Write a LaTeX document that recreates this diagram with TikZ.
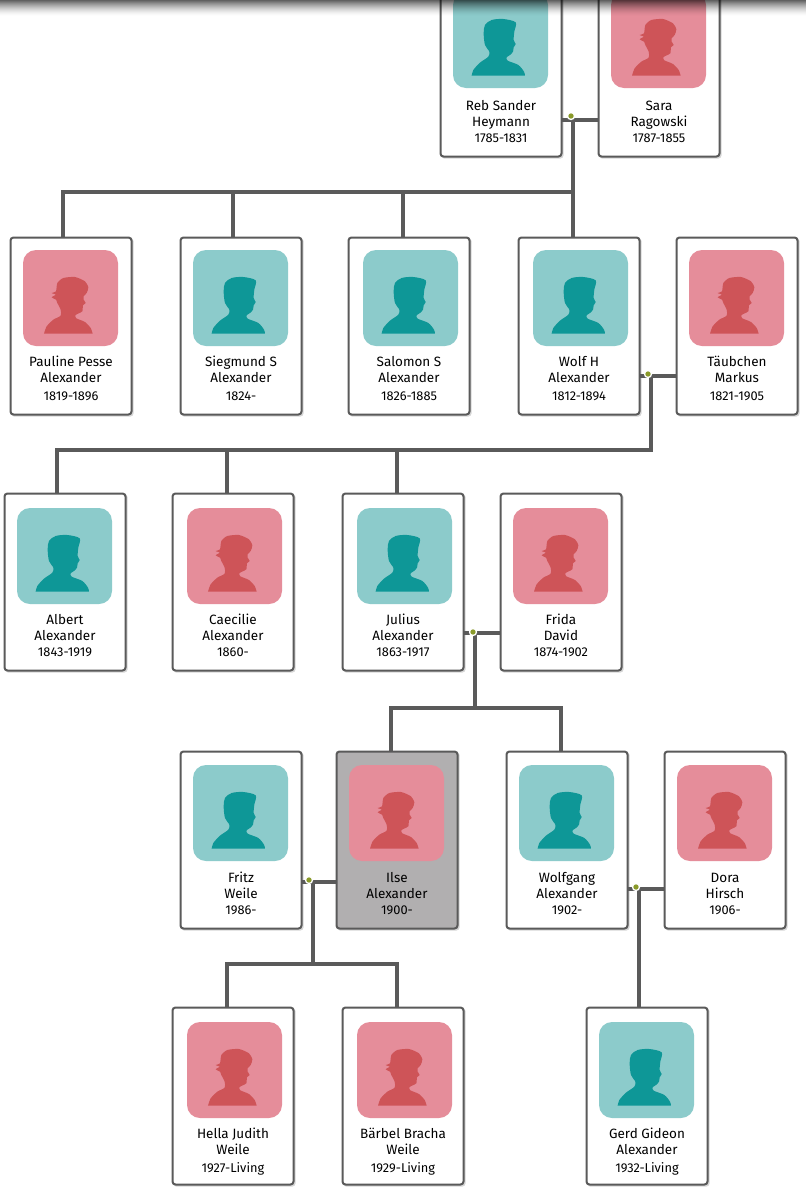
\documentclass[tikz,border=0pt]{standalone}
\usepackage{fontspec}
\setmainfont{Fira Sans}
\definecolor{linegray}{HTML}{5A5A5A}
\definecolor{cardgray}{HTML}{B1AFB0}
\definecolor{mbg}{HTML}{8CCBCB}
\definecolor{msil}{HTML}{0E9797}
\definecolor{fbg}{HTML}{E58D9A}
\definecolor{fsil}{HTML}{CE5458}
\definecolor{dotgreen}{HTML}{8A9A2A}
\tikzset{
  cardbox/.style={draw=linegray,line width=2pt,rounded corners=3pt,minimum width=121pt,minimum height=177pt,inner sep=0pt,outer sep=0pt},
  cardshadow/.style={fill=black,opacity=.16,rounded corners=3pt},
  photobox/.style={rounded corners=13pt,minimum width=95pt,minimum height=96pt,inner sep=0pt,outer sep=0pt},
  mphoto/.style={photobox,fill=mbg},
  fphoto/.style={photobox,fill=fbg},
  cardlabel/.style={align=center,anchor=north,inner sep=0pt,font=\fontsize{13.5}{16}\selectfont,text=black},
  link/.style={draw=linegray,line width=4pt,line cap=butt,line join=miter},
  ringdot/.style={circle,fill=dotgreen,draw=white,line width=1.3pt,minimum size=7pt,inner sep=0pt},
}
\newcommand\malesil{\fill[msil] plot[smooth,tension=.5] coordinates {(56,251)(61,234)(81,212)(106,194)(109,179)(96,159)(92,124)(96,99)(116,84)(151,81)(188,91)(184,119)(182,144)(188,156)(182,166)(180,179)(171,189)(161,196)(164,206)(196,219)(213,239)(216,251)} -- cycle;}
\newcommand\femalesil{\fill[fsil] plot[smooth,tension=.4] coordinates {(63,251)(71,229)(91,209)(113,197)(113,179)(103,159)(99,149)(86,142)(98,134)(86,129)(99,124)(103,99)(121,84)(156,81)(186,94)(196,112)(191,129)(182,139)(182,149)(188,159)(180,166)(178,184)(165,191)(157,196)(160,205)(186,216)(203,234)(209,251)} -- cycle;}
\newcommand\dategap{.6pt}
\newcommand\linestrut{\vphantom{Äg}}
\def\splitpair#1,#2\relax{\def\phox{#1}\def\phoy{#2}}
% name, left, top, sex, photo left offset and top, label lines, date, label y, fill
\newcommand\personcard[9]{%
  \splitpair#5\relax
  \pgfmathsetmacro\cx{#2+61}\pgfmathsetmacro\cy{#3+89}%
  \pgfmathsetmacro\px{#2+\phox}\pgfmathsetmacro\pcx{#2+\phox+47.5}\pgfmathsetmacro\pcy{\phoy+48}%
  \fill[cardshadow] (#2+1,#3+1) rectangle (#2+123.5,#3+179.5);
  \node[cardbox,fill=#9] (#1) at (\cx,\cy) {};
  \node[#4photo] (#1-photo) at (\pcx,\pcy) {};
  \begin{scope}[shift={(\px,\phoy)},x=.3333pt,y=-.3333pt]
    \ifx#4m\malesil\else\femalesil\fi
  \end{scope}
  \node[cardlabel] (#1-label) at (\cx,#8) {\linestrut #6\\[\dategap]{\fontsize{12.8}{15}\selectfont #7}};
}
\begin{document}
\begin{tikzpicture}[x=1pt,y=-1pt]
\useasboundingbox (0,0) rectangle (806,1192);
\clip (0,0) rectangle (806,1192);
\fill[white] (0,0) rectangle (806,1192);
% row 1
\personcard{reb}{440}{-21}{m}{13,-8}{Reb Sander\\Heymann}{1785-1831}{98}{white}
\personcard{sara}{598}{-21}{f}{13,-8}{Sara\\Ragowski}{1787-1855}{98}{white}
% row 2
\renewcommand\dategap{2.2pt}
\personcard{pauline}{10}{237}{f}{13,250}{Pauline Pesse\\Alexander}{1819-1896}{354}{white}
\personcard{siegmund}{180}{237}{m}{13,250}{Siegmund S\\Alexander}{1824-}{354}{white}
\personcard{salomon}{348}{237}{m}{15,250}{Salomon S\\Alexander}{1826-1885}{354}{white}
\personcard{wolf}{518}{237}{m}{15,250}{Wolf H\\Alexander}{1812-1894}{354}{white}
\personcard{taeubchen}{676}{237}{f}{13,250}{Täubchen\\Markus}{1821-1905}{354}{white}
% row 3
\renewcommand\dategap{.6pt}
\personcard{albert}{4}{493}{m}{13,508}{Albert\\Alexander}{1843-1919}{612}{white}
\personcard{caecilie}{172}{493}{f}{15,508}{Caecilie\\Alexander}{1860-}{612}{white}
\personcard{julius}{342}{493}{m}{15,508}{Julius\\Alexander}{1863-1917}{612}{white}
\personcard{frida}{500}{493}{f}{13,508}{Frida\\David}{1874-1902}{612}{white}
% row 4
\personcard{fritz}{180}{751}{m}{13,765}{Fritz\\Weile}{1986-}{870}{white}
\personcard{ilse}{336}{751}{f}{13,765}{Ilse\\Alexander}{1900-}{870}{cardgray}
\personcard{wolfgang}{506}{751}{m}{13,765}{Wolfgang\\Alexander}{1902-}{870}{white}
\personcard{dora}{664}{751}{f}{13,765}{Dora\\Hirsch}{1906-}{870}{white}
% row 5
\renewcommand\dategap{2.2pt}
\personcard{hella}{172}{1007}{f}{15,1022}{Hella Judith\\Weile}{1927-Living}{1126}{white}
\personcard{baerbel}{342}{1007}{f}{15,1022}{Bärbel Bracha\\Weile}{1929-Living}{1126}{white}
\personcard{gerd}{586}{1007}{m}{13,1022}{Gerd Gideon\\Alexander}{1932-Living}{1126}{white}
% junctions
\coordinate (j1) at (573,120); \coordinate (b1) at (573,192);
\coordinate (j2) at (651,376); \coordinate (b2) at (651,450);
\coordinate (j3) at (475,633); \coordinate (b3) at (475,708);
\coordinate (j4) at (313,882); \coordinate (b4) at (313,964);
\coordinate (j5) at (639,889);
% couple lines
\draw[link] (reb.east |- j1) -- (sara.west |- j1);
\draw[link] (wolf.east |- j2) -- (taeubchen.west |- j2);
\draw[link] (julius.east |- j3) -- (frida.west |- j3);
\draw[link] (fritz.east |- j4) -- (ilse.west |- j4);
\draw[link] (wolfgang.east |- j5) -- (dora.west |- j5);
% descent
\draw[link] ([yshift=-2pt]j1) -- (wolf.north -| j1);
\draw[link] ([xshift=-2pt]b1) -- ([xshift=-8pt]pauline.north |- b1) -- ([xshift=-8pt]pauline.north);
\draw[link] ([xshift=-8pt]siegmund.north |- b1) -- ([xshift=-8pt]siegmund.north);
\draw[link] ([xshift=-6pt]salomon.north |- b1) -- ([xshift=-6pt]salomon.north);
\draw[link] ([yshift=-2pt]j2) -- (b2) -- ([xshift=-8pt]albert.north |- b2) -- ([xshift=-8pt]albert.north);
\draw[link] ([xshift=-6pt]caecilie.north |- b2) -- ([xshift=-6pt]caecilie.north);
\draw[link] ([xshift=-6pt]julius.north |- b2) -- ([xshift=-6pt]julius.north);
\draw[link] ([yshift=-2pt]j3) -- (b3);
\draw[link] ([xshift=-6pt]ilse.north) |- (b3) -| ([xshift=-6pt]wolfgang.north);
\draw[link] ([yshift=-2pt]j4) -- (b4);
\draw[link] ([xshift=-6pt]hella.north) |- (b4) -| ([xshift=-6pt]baerbel.north);
\draw[link] ([yshift=-2pt]j5) -- (gerd.north -| j5);
% dots
\node[ringdot] (d1) at (571,116) {};
\node[ringdot] (d2) at (648,374) {};
\node[ringdot] (d3) at (473,632) {};
\node[ringdot] (d4) at (309,880) {};
\node[ringdot] (d5) at (636,887) {};
% top shadow
\foreach \i in {0,...,15}{
  \pgfmathsetmacro\op{.62*(1-\i/16)^1.6}
  \fill[black,opacity=\op] (0,\i) rectangle (806,\i+1);
}
\end{tikzpicture}
\end{document}
